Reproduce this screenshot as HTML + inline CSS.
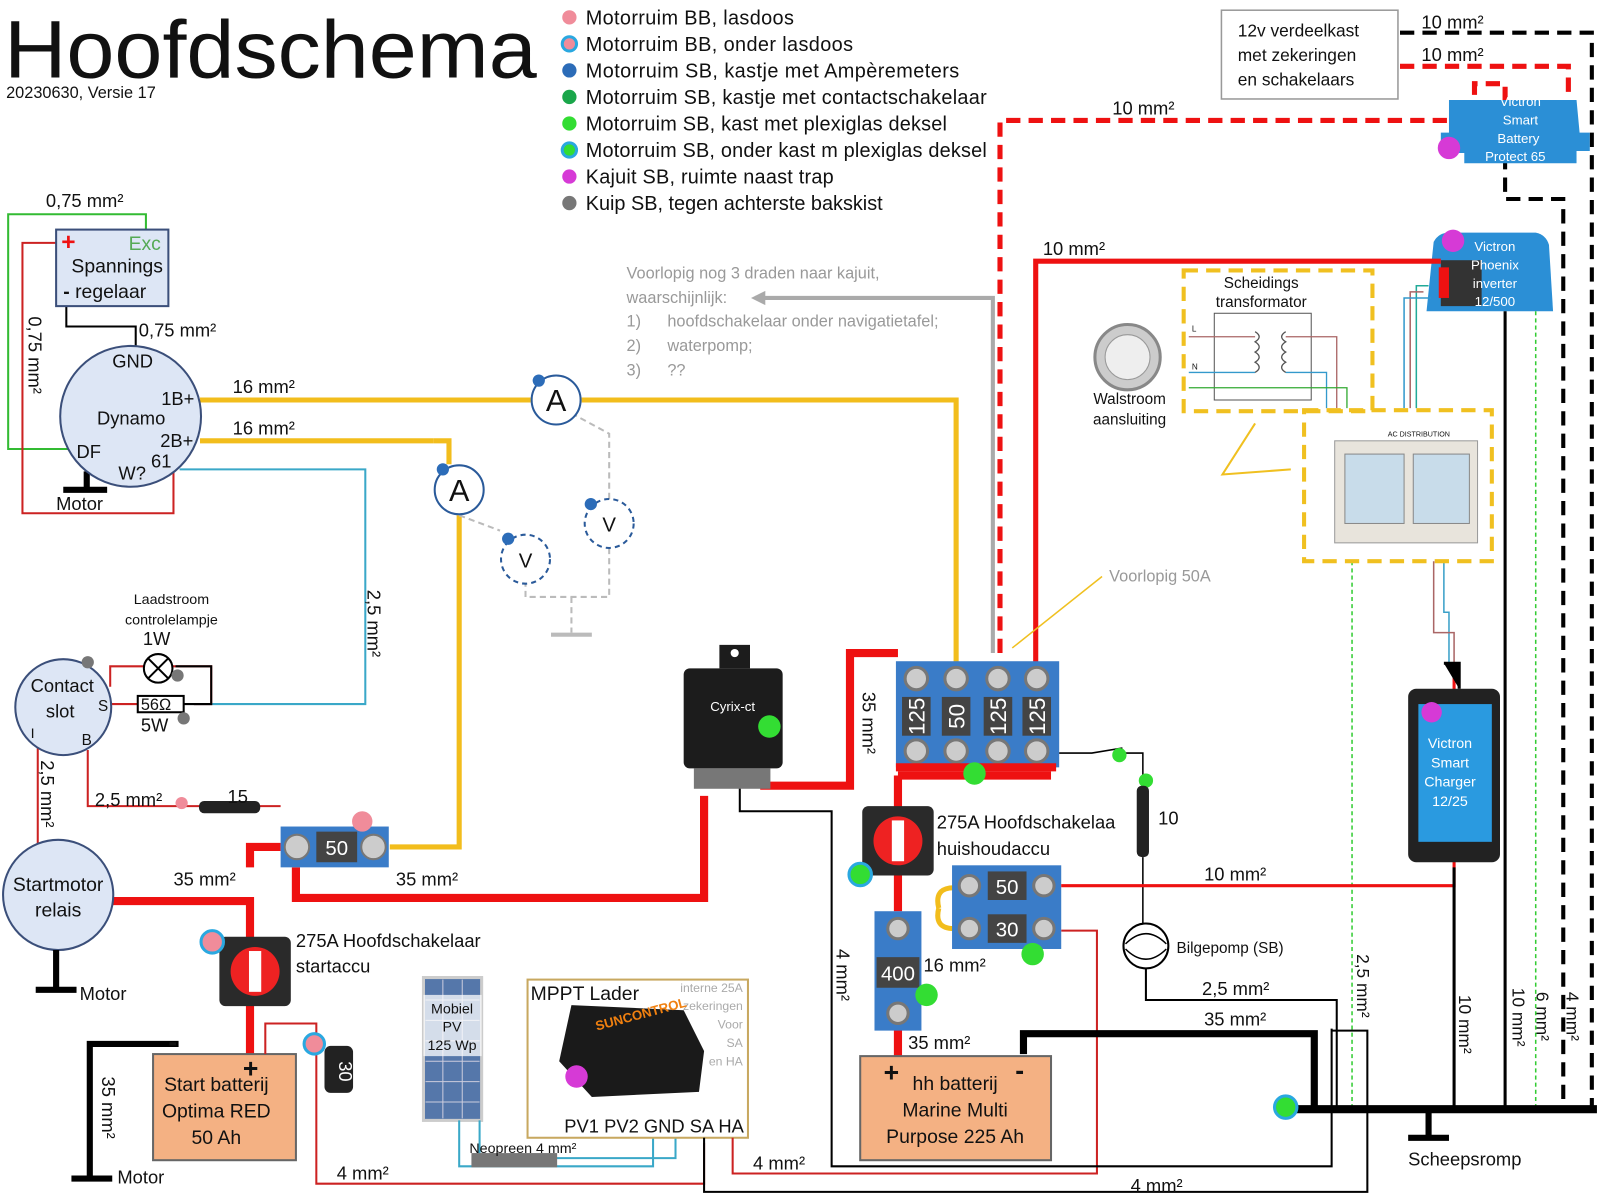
<!DOCTYPE html>
<html><head><meta charset="utf-8"><style>
html,body{margin:0;padding:0;background:#fff;width:1600px;height:1200px;overflow:hidden}
svg{display:block}
text{font-family:"Liberation Sans",sans-serif;fill:#111}
</style></head><body>
<svg width="1600" height="1200" viewBox="0 0 1568 1176" xmlns="http://www.w3.org/2000/svg">
<rect width="1568" height="1176" fill="#fff"/>
<!-- Title -->
<text x="4" y="76" font-size="80" textLength="522" lengthAdjust="spacingAndGlyphs">Hoofdschema</text>
<text x="6" y="96" font-size="16">20230630, Versie 17</text>
<!-- Legend -->
<g font-size="19.5">
<circle cx="558" cy="17" r="7" fill="#f08c9a"/><text x="574" y="24" textLength="204">Motorruim BB, lasdoos</text>
<circle cx="558" cy="43" r="7" fill="#f08c9a" stroke="#2aa8e0" stroke-width="3"/><text x="574" y="50" textLength="262">Motorruim BB, onder lasdoos</text>
<circle cx="558" cy="69" r="7" fill="#2c6cb8"/><text x="574" y="76" textLength="366">Motorruim SB, kastje met Ampèremeters</text>
<circle cx="558" cy="95" r="7" fill="#1aa64a"/><text x="574" y="102" textLength="393">Motorruim SB, kastje met contactschakelaar</text>
<circle cx="558" cy="121" r="7" fill="#33dd33"/><text x="574" y="128" textLength="354">Motorruim SB, kast met plexiglas deksel</text>
<circle cx="558" cy="147" r="7" fill="#33dd33" stroke="#2aa8e0" stroke-width="3"/><text x="574" y="154" textLength="393">Motorruim SB, onder kast m plexiglas deksel</text>
<circle cx="558" cy="173" r="7" fill="#d63ad6"/><text x="574" y="180" textLength="243">Kajuit SB, ruimte naast trap</text>
<circle cx="558" cy="199" r="7" fill="#777"/><text x="574" y="206" textLength="291">Kuip SB, tegen achterste bakskist</text>
</g>
<!-- 12v verdeelkast -->
<rect x="1197" y="10" width="173" height="87" fill="#fff" stroke="#999" stroke-width="1.5"/>
<g font-size="17"><text x="1213" y="36">12v verdeelkast</text><text x="1213" y="60">met zekeringen</text><text x="1213" y="84">en schakelaars</text></g>
<!-- dashed black wires right -->
<g fill="none" stroke="#000" stroke-width="4" stroke-dasharray="14,8">
<path d="M1372 32 H1560 V1087"/>
<path d="M1475 130 V195 H1532 V1087"/>
</g>
<g fill="none" stroke="#e11" stroke-width="5" stroke-dasharray="14,8">
<path d="M1372 65 H1537 V98"/>
<path d="M980 640 V118 H1445 V82 H1475 V98"/>
</g>
<text x="1393" y="28" font-size="18">10 mm²</text>
<text x="1393" y="60" font-size="18">10 mm²</text>
<text x="1090" y="112" font-size="18">10 mm²</text>
<!-- battery protect -->
<path d="M1420 98 H1545 L1548 130 H1558 V148 H1545 V160 H1435 V150 H1412 V130 H1420Z" fill="#2b8fd6"/>
<circle cx="1420" cy="145" r="11" fill="#d63ad6"/>
<g font-size="13" text-anchor="middle">
<text x="1490" y="104" style="fill:#fff">Victron</text><text x="1490" y="122" style="fill:#fff">Smart</text><text x="1488" y="140" style="fill:#fff">Battery</text><text x="1485" y="158" style="fill:#fff">Protect 65</text></g>
<!-- Phoenix inverter -->
<path d="M1405 237 Q1410 228 1420 228 H1505 Q1515 230 1518 240 L1522 305 H1398Z" fill="#2b8fd6"/>
<rect x="1412" y="255" width="40" height="45" fill="#333"/>
<rect x="1410" y="262" width="10" height="30" fill="#e11"/>
<circle cx="1424" cy="236" r="11" fill="#d63ad6"/>
<g font-size="13" text-anchor="middle"><text x="1465" y="246" style="fill:#fff">Victron</text><text x="1465" y="264" style="fill:#fff">Phoenix</text><text x="1465" y="282" style="fill:#fff">inverter</text><text x="1465" y="300" style="fill:#fff">12/500</text></g>
<!-- red 10mm to inverter -->
<path d="M1015 650 V256 H1412" fill="none" stroke="#e11" stroke-width="5"/>
<text x="1022" y="250" font-size="18">10 mm²</text>
<!-- thin wires from inverter down -->
<g fill="none" stroke-width="1.5">
<path d="M1400 280 H1388 V400" stroke="#2a9"/>
<path d="M1395 286 H1382 V400" stroke="#a66"/>
<path d="M1402 292 H1376 V400" stroke="#39c"/>
<path d="M1505 305 V1087" stroke="#3c3" stroke-dasharray="4,3"/>
<path d="M1325 550 V1087" stroke="#3c3" stroke-dasharray="4,3"/>
<path d="M1415 550 V600 H1420 V650" stroke="#3aa0c8"/>
<path d="M1405 550 V620 H1425 V650" stroke="#a66"/>
</g>
<!-- scheidings transformator -->
<rect x="1160" y="265" width="185" height="138" fill="none" stroke="#f0c020" stroke-width="4" stroke-dasharray="14,8"/>
<text x="1236" y="282" font-size="15" text-anchor="middle">Scheidings</text>
<text x="1236" y="301" font-size="15" text-anchor="middle">transformator</text>
<rect x="1190" y="307" width="95" height="85" fill="none" stroke="#555"/>
<g fill="none" stroke-width="1.3">
<path d="M1165 330 H1230" stroke="#a66"/><path d="M1260 330 H1310 V400" stroke="#a66"/>
<path d="M1165 365 H1230" stroke="#39c"/><path d="M1260 365 H1300 V400" stroke="#39c"/>
<path d="M1165 380 H1320 V400" stroke="#3a3"/>
<path d="M1230 325 q8 5 0 10 q8 5 0 10 q8 5 0 10 q8 5 0 10" stroke="#555"/>
<path d="M1260 325 q-8 5 0 10 q-8 5 0 10 q-8 5 0 10 q-8 5 0 10" stroke="#555"/>
</g>
<text x="1168" y="325" font-size="8">L</text><text x="1168" y="362" font-size="8">N</text>
<!-- walstroom -->
<circle cx="1105" cy="350" r="32" fill="#ccc" stroke="#888" stroke-width="3"/>
<circle cx="1105" cy="350" r="22" fill="#eee" stroke="#999"/>
<text x="1107" y="396" font-size="15" text-anchor="middle">Walstroom</text>
<text x="1107" y="416" font-size="15" text-anchor="middle">aansluiting</text>
<!-- AC distribution -->
<rect x="1278" y="402" width="184" height="148" fill="none" stroke="#f0c020" stroke-width="4" stroke-dasharray="14,8"/>
<rect x="1308" y="432" width="140" height="100" fill="#e8e4dc" stroke="#999"/>
<rect x="1318" y="445" width="58" height="68" fill="#c8dcea" stroke="#888"/>
<rect x="1385" y="445" width="55" height="68" fill="#c8dcea" stroke="#888"/>
<text x="1360" y="428" font-size="7">AC DISTRIBUTION</text>
<path d="M1230 415 L1198 465 L1265 460" fill="none" stroke="#f0c020" stroke-width="2"/>
<!-- grey arrow voorlopig -->
<path d="M973 640 V292 H740" fill="none" stroke="#aaa" stroke-width="4"/>
<path d="M736 292 l14 -7 v14z" fill="#aaa"/>
<g font-size="16">
<text x="614" y="273" style="fill:#999">Voorlopig nog 3 draden naar kajuit,</text>
<text x="614" y="297" style="fill:#999">waarschijnlijk:</text>
<text x="614" y="320" style="fill:#999">1)</text><text x="654" y="320" style="fill:#999">hoofdschakelaar onder navigatietafel;</text>
<text x="614" y="344" style="fill:#999">2)</text><text x="654" y="344" style="fill:#999">waterpomp;</text>
<text x="614" y="368" style="fill:#999">3)</text><text x="654" y="368" style="fill:#999">??</text>
</g>
<text x="1087" y="570" font-size="16" style="fill:#999">Voorlopig 50A</text>
<path d="M1080 565 L992 635" stroke="#f0c020" stroke-width="1.5"/>
<!-- Spanningsregelaar + dynamo wiring -->
<path d="M143 225 V210 H8 V440 H75" fill="none" stroke="#3b3" stroke-width="2"/>
<path d="M55 238 H22 V503 H170 V462" fill="none" stroke="#c22" stroke-width="2"/>
<path d="M65 300 V320 H133 V340" fill="none" stroke="#000" stroke-width="2"/>
<text x="45" y="203" font-size="18">0,75 mm²</text>
<text x="136" y="330" font-size="18">0,75 mm²</text>
<text x="28" y="310" font-size="18" transform="rotate(90 28 310)">0,75 mm²</text>
<rect x="55" y="225" width="110" height="75" fill="#dde6f5" stroke="#3b4f7a" stroke-width="2"/>
<text x="60" y="245" font-size="24" style="fill:#e11" font-weight="bold">+</text>
<text x="126" y="245" font-size="19" style="fill:#5a5">Exc</text>
<text x="70" y="267" font-size="19">Spannings</text>
<text x="62" y="292" font-size="19"><tspan font-weight="bold">-</tspan> regelaar</text>
<!-- yellow 16mm -->
<g fill="none" stroke="#f2bd1c" stroke-width="5">
<path d="M196 392 H520"/><path d="M570 392 H937 V650"/>
<path d="M196 432 H425"/><path d="M450 505 V830 H382"/>
<path d="M425 432 H440 V455"/>
</g>
<text x="228" y="385" font-size="18">16 mm²</text>
<text x="228" y="426" font-size="18">16 mm²</text>
<path d="M176 460 H358 V690 H190" fill="none" stroke="#3aa8c8" stroke-width="2"/>
<text x="360" y="578" font-size="18" transform="rotate(90 360 578)">2,5 mm²</text>
<!-- dynamo -->
<path d="M85 462 V480 M62 480 H105" stroke="#000" stroke-width="6"/>
<circle cx="128" cy="408" r="69" fill="#dde6f5" stroke="#3b4f7a" stroke-width="2"/>
<g font-size="18"><text x="110" y="360">GND</text><text x="158" y="397">1B+</text><text x="95" y="416">Dynamo</text><text x="157" y="438">2B+</text><text x="75" y="449">DF</text><text x="148" y="458">61</text><text x="116" y="470">W?</text></g>
<text x="55" y="500" font-size="18">Motor</text>
<!-- ammeters/voltmeters -->
<g fill="none" stroke="#bbb" stroke-width="2" stroke-dasharray="6,4">
<path d="M560 405 L597 425 V490"/><path d="M597 537 V585 H515 V572"/><path d="M450 505 L490 520"/>
<path d="M560 585 V620"/>
</g>
<path d="M540 622 H580" stroke="#bbb" stroke-width="4"/>
<circle cx="545" cy="392" r="24" fill="#fff" stroke="#2a5a9a" stroke-width="2"/><text x="545" y="403" font-size="30" text-anchor="middle">A</text>
<circle cx="450" cy="480" r="24" fill="#fff" stroke="#2a5a9a" stroke-width="2"/><text x="450" y="491" font-size="30" text-anchor="middle">A</text>
<circle cx="597" cy="513" r="24" fill="#fff" stroke="#2a5a9a" stroke-width="2" stroke-dasharray="5,4"/><text x="597" y="521" font-size="20" text-anchor="middle">V</text>
<circle cx="515" cy="548" r="24" fill="#fff" stroke="#2a5a9a" stroke-width="2" stroke-dasharray="5,4"/><text x="515" y="556" font-size="20" text-anchor="middle">V</text>
<g fill="#2c6cb8"><circle cx="528" cy="373" r="6"/><circle cx="434" cy="460" r="6"/><circle cx="579" cy="494" r="6"/><circle cx="498" cy="528" r="6"/></g>
<!-- contact slot -->
<text x="168" y="592" font-size="14" text-anchor="middle">Laadstroom</text>
<text x="168" y="612" font-size="14" text-anchor="middle">controlelampje</text>
<path d="M108 673 V653 H207 V690 H190 M108 690 H135" fill="none" stroke="#c22" stroke-width="2"/>
<path d="M172 653 H207 V690 H180" fill="none" stroke="#000" stroke-width="2"/>
<circle cx="155" cy="655" r="14" fill="#fff" stroke="#000" stroke-width="2"/>
<path d="M145 645 L165 665 M165 645 L145 665" stroke="#000" stroke-width="2"/>
<rect x="135" y="682" width="45" height="16" fill="#fff" stroke="#000" stroke-width="2"/>
<text x="138" y="696" font-size="16">56Ω</text>
<text x="140" y="632" font-size="18">1W</text><text x="138" y="717" font-size="18">5W</text>
<circle cx="174" cy="662" r="6" fill="#777"/><circle cx="180" cy="704" r="6" fill="#777"/>
<path d="M86 735 V790 H275 M37 720 V830" fill="none" stroke="#c22" stroke-width="2"/>
<circle cx="62" cy="693" r="47" fill="#dde6f5" stroke="#3b4f7a" stroke-width="2"/>
<circle cx="86" cy="649" r="6" fill="#777"/>
<text x="30" y="678" font-size="18">Contact</text><text x="45" y="703" font-size="18">slot</text>
<text x="96" y="697" font-size="15">S</text><text x="80" y="730" font-size="15">B</text><text x="30" y="723" font-size="14">I</text>
<text x="40" y="745" font-size="18" transform="rotate(90 40 745)">2,5 mm²</text>
<text x="93" y="790" font-size="18">2,5 mm²</text>
<circle cx="178" cy="787" r="6" fill="#f08c9a"/>
<rect x="195" y="785" width="60" height="12" rx="5" fill="#222"/>
<text x="223" y="787" font-size="18">15</text>
<!-- startmotor relais & red cables -->
<g fill="none" stroke="#e11" stroke-width="8">
<path d="M110 883 H245 V920"/><path d="M245 850 V830 H275"/>
<path d="M290 850 V880 H690 V780"/>
<path d="M745 770 H833 V640 H880"/>
<path d="M880 760 H1030"/><path d="M880 760 V795"/>
<path d="M880 858 V893"/><path d="M880 1008 V1035"/>
<path d="M245 985 V1035"/>
</g>
<path d="M920 890 Q915 870 935 870 M920 890 Q915 910 935 910" fill="none" stroke="#f2bd1c" stroke-width="5"/>
<text x="170" y="868" font-size="18">35 mm²</text>
<text x="388" y="868" font-size="18">35 mm²</text>
<text x="845" y="678" font-size="18" transform="rotate(90 845 678)">35 mm²</text>
<circle cx="57" cy="877" r="54" fill="#dde6f5" stroke="#3b4f7a" stroke-width="2"/>
<text x="57" y="873" font-size="19" text-anchor="middle">Startmotor</text><text x="57" y="898" font-size="19" text-anchor="middle">relais</text>
<path d="M55 931 V970 M35 970 H75" stroke="#000" stroke-width="6"/>
<text x="78" y="980" font-size="18">Motor</text>
<!-- fuse 50 start -->
<rect x="275" y="810" width="106" height="40" fill="#3a7cc8"/>
<circle cx="291" cy="830" r="12" fill="#ccc" stroke="#777" stroke-width="2"/><circle cx="366" cy="830" r="12" fill="#ccc" stroke="#777" stroke-width="2"/>
<rect x="310" y="815" width="40" height="30" fill="#444"/><text x="330" y="838" font-size="20" text-anchor="middle" style="fill:#fff">50</text>
<circle cx="355" cy="805" r="10" fill="#f08c9a"/>
<!-- main switch startaccu -->
<rect x="215" y="918" width="70" height="68" rx="6" fill="#2a2a2a"/>
<circle cx="250" cy="952" r="24" fill="#e22"/><rect x="244" y="932" width="12" height="40" fill="#fff"/>
<circle cx="208" cy="923" r="11" fill="#f08c9a" stroke="#2aa8e0" stroke-width="3"/>
<text x="290" y="928" font-size="18">275A Hoofdschakelaar</text><text x="290" y="953" font-size="18">startaccu</text>
<!-- start battery -->
<path d="M175 1023 H88 V1155 M70 1155 H110" fill="none" stroke="#000" stroke-width="6"/>
<text x="100" y="1055" font-size="18" transform="rotate(90 100 1055)">35 mm²</text>
<text x="115" y="1160" font-size="18">Motor</text>
<rect x="150" y="1033" width="140" height="104" fill="#f4b183" stroke="#666" stroke-width="2"/>
<text x="165" y="1030" font-size="26" font-weight="bold">-</text><text x="238" y="1056" font-size="26" font-weight="bold">+</text>
<text x="212" y="1069" font-size="19" text-anchor="middle">Start batterij</text>
<text x="212" y="1095" font-size="19" text-anchor="middle">Optima RED</text>
<text x="212" y="1121" font-size="19" text-anchor="middle">50 Ah</text>
<path d="M260 1033 V1003 H310 V1160 H690 V1120" fill="none" stroke="#c22" stroke-width="2"/>
<text x="330" y="1156" font-size="18">4 mm²</text>
<rect x="318" y="1025" width="28" height="46" rx="6" fill="#222"/>
<text x="332" y="1040" font-size="18" style="fill:#fff" transform="rotate(90 332 1040)">30</text>
<circle cx="308" cy="1023" r="10" fill="#f08c9a" stroke="#2aa8e0" stroke-width="3"/>
<!-- solar & MPPT -->
<rect x="415" y="958" width="57" height="140" fill="#5577aa" stroke="#ccc" stroke-width="3"/>
<g stroke="#ccd" stroke-width="1"><path d="M434 960V1096M453 960V1096M417 980H470M417 1000H470M417 1020H470M417 1040H470M417 1060H470M417 1080H470"/></g>
<rect x="415" y="975" width="57" height="60" fill="rgba(255,255,255,0.75)"/>
<text x="443" y="993" font-size="14" text-anchor="middle">Mobiel</text><text x="443" y="1011" font-size="14" text-anchor="middle">PV</text><text x="443" y="1029" font-size="14" text-anchor="middle">125 Wp</text>
<path d="M450 1098 V1143 H640 V1110" fill="none" stroke="#3aa8c8" stroke-width="2"/>
<path d="M470 1098 V1135 H662 V1110" fill="none" stroke="#3aa8c8" stroke-width="2"/>
<rect x="462" y="1130" width="84" height="14" fill="#777"/>
<text x="460" y="1130" font-size="14">Neopreen 4 mm²</text>
<rect x="517" y="960" width="216" height="155" fill="#fff" stroke="#c8a860" stroke-width="2"/>
<text x="520" y="980" font-size="19">MPPT Lader</text>
<g font-size="12" text-anchor="end"><text x="728" y="972" style="fill:#aaa">interne 25A</text><text x="728" y="990" style="fill:#aaa">zekeringen</text><text x="728" y="1008" style="fill:#aaa">Voor</text><text x="728" y="1026" style="fill:#aaa">SA</text><text x="728" y="1044" style="fill:#aaa">en HA</text></g>
<path d="M560 985 L670 990 L690 1030 L685 1070 L580 1075 L548 1040Z" fill="#1a1a1a"/>
<text x="585" y="1010" font-size="13" style="fill:#f08010" font-weight="bold" transform="rotate(-15 585 1010)">SUNCONTROL</text>
<circle cx="565" cy="1055" r="11" fill="#d63ad6"/>
<text x="553" y="1110" font-size="18">PV1 PV2 GND SA HA</text>
<path d="M690 1115 V1168 H1340 V1010 H1305" fill="none" stroke="#000" stroke-width="2"/>
<path d="M718 1115 V1150 H1075 V912 H1040" fill="none" stroke="#c22" stroke-width="2"/>
<text x="738" y="1146" font-size="18">4 mm²</text>
<text x="1108" y="1168" font-size="18">4 mm²</text>
<!-- cyrix -->
<path d="M725 770 V795 H815 V1143 H1305 V1008" fill="none" stroke="#000" stroke-width="2"/>
<rect x="670" y="655" width="97" height="98" rx="6" fill="#1c1c1c"/>
<path d="M705 655 V632 H735 V655" fill="#1c1c1c"/>
<circle cx="720" cy="640" r="4" fill="#fff"/>
<text x="696" y="697" font-size="13" style="fill:#fff">Cyrix-ct</text>
<rect x="680" y="753" width="75" height="20" fill="#777"/>
<circle cx="754" cy="712" r="11" fill="#33dd33"/>
<!-- main fuse block -->
<rect x="878" y="648" width="160" height="104" fill="#3a7cc8"/>
<g fill="#ccc" stroke="#777" stroke-width="3">
<circle cx="898" cy="665" r="11"/><circle cx="937" cy="665" r="11"/><circle cx="978" cy="665" r="11"/><circle cx="1016" cy="665" r="11"/>
<circle cx="898" cy="736" r="11"/><circle cx="937" cy="736" r="11"/><circle cx="978" cy="736" r="11"/><circle cx="1016" cy="736" r="11"/></g>
<g fill="#444"><rect x="884" y="683" width="28" height="38"/><rect x="923" y="683" width="28" height="38"/><rect x="964" y="683" width="28" height="38"/><rect x="1002" y="683" width="28" height="38"/></g>
<g font-size="22" text-anchor="middle">
<text x="898" y="702" transform="rotate(-90 898 702)" dy="8" style="fill:#fff">125</text>
<text x="937" y="702" transform="rotate(-90 937 702)" dy="8" style="fill:#fff">50</text>
<text x="978" y="702" transform="rotate(-90 978 702)" dy="8" style="fill:#fff">125</text>
<text x="1016" y="702" transform="rotate(-90 1016 702)" dy="8" style="fill:#fff">125</text></g>
<path d="M878 752 H1035" stroke="#e11" stroke-width="8"/>
<circle cx="955" cy="758" r="11" fill="#33dd33"/>
<path d="M1038 738 H1070 L1100 733 M1100 738 H1120 V760" fill="none" stroke="#000" stroke-width="1.5"/>
<circle cx="1097" cy="740" r="7" fill="#33dd33"/><circle cx="1123" cy="765" r="7" fill="#33dd33"/>
<rect x="1114" y="770" width="12" height="70" rx="5" fill="#222"/>
<text x="1135" y="808" font-size="18">10</text>
<path d="M1120 840 V905" stroke="#000" stroke-width="1.5"/>
<!-- hoofdschakelaar huis -->
<rect x="845" y="790" width="70" height="68" rx="6" fill="#2a2a2a"/>
<circle cx="880" cy="824" r="24" fill="#e22"/><rect x="874" y="804" width="12" height="40" fill="#fff"/>
<circle cx="843" cy="857" r="11" fill="#33dd33" stroke="#2aa8e0" stroke-width="3"/>
<text x="918" y="812" font-size="18">275A Hoofdschakelaa</text><text x="918" y="838" font-size="18">huishoudaccu</text>
<!-- 50/30 block -->
<rect x="933" y="848" width="107" height="82" fill="#3a7cc8"/>
<g fill="#ccc" stroke="#777" stroke-width="3"><circle cx="950" cy="868" r="10"/><circle cx="1023" cy="868" r="10"/><circle cx="950" cy="910" r="10"/><circle cx="1023" cy="910" r="10"/></g>
<rect x="968" y="854" width="38" height="28" fill="#444"/><rect x="968" y="896" width="38" height="28" fill="#444"/>
<text x="987" y="876" font-size="20" text-anchor="middle" style="fill:#fff">50</text>
<text x="987" y="918" font-size="20" text-anchor="middle" style="fill:#fff">30</text>
<circle cx="1012" cy="935" r="11" fill="#33dd33"/>
<path d="M1040 868 H1425 V660" fill="none" stroke="#e11" stroke-width="3"/>
<text x="1180" y="863" font-size="18">10 mm²</text>
<!-- 400 block -->
<rect x="857" y="893" width="46" height="117" fill="#3a7cc8"/>
<circle cx="880" cy="910" r="10" fill="#ccc" stroke="#777" stroke-width="3"/><circle cx="880" cy="993" r="10" fill="#ccc" stroke="#777" stroke-width="3"/>
<rect x="859" y="938" width="42" height="30" fill="#444"/><text x="880" y="961" font-size="20" text-anchor="middle" style="fill:#fff">400</text>
<circle cx="908" cy="975" r="11" fill="#33dd33"/>
<text x="905" y="952" font-size="18">16 mm²</text>
<text x="820" y="930" font-size="18" transform="rotate(90 820 930)">4 mm²</text>
<text x="890" y="1028" font-size="18">35 mm²</text>
<!-- bilgepomp -->
<circle cx="1123" cy="927" r="22" fill="#fff" stroke="#000" stroke-width="2"/>
<path d="M1103 925 Q1123 905 1143 925 M1103 930 Q1123 950 1143 930" fill="none" stroke="#000" stroke-width="1.5"/>
<text x="1153" y="934" font-size="15">Bilgepomp (SB)</text>
<path d="M1123 949 V980 H1310 V1087" fill="none" stroke="#000" stroke-width="2"/>
<text x="1178" y="975" font-size="18">2,5 mm²</text>
<text x="1180" y="1005" font-size="18">35 mm²</text>
<!-- hh battery -->
<path d="M1003 1033 V1013 H1288 V1087" fill="none" stroke="#000" stroke-width="7"/>
<rect x="843" y="1035" width="187" height="102" fill="#f4b183" stroke="#666" stroke-width="2"/>
<text x="866" y="1060" font-size="26" font-weight="bold">+</text><text x="995" y="1058" font-size="26" font-weight="bold">-</text>
<text x="936" y="1068" font-size="19" text-anchor="middle">hh batterij</text>
<text x="936" y="1094" font-size="19" text-anchor="middle">Marine Multi</text>
<text x="936" y="1120" font-size="19" text-anchor="middle">Purpose 225 Ah</text>
<!-- smart charger -->
<path d="M1425 850 V1087 M1475 305 V1087" fill="none" stroke="#000" stroke-width="3"/>
<path d="M1415 650 H1430 V675" stroke="#000" stroke-width="3"/>
<rect x="1380" y="675" width="90" height="170" rx="8" fill="#222"/>
<rect x="1390" y="690" width="72" height="135" fill="#2a9ae0"/>
<circle cx="1403" cy="698" r="10" fill="#d63ad6"/>
<g font-size="14" text-anchor="middle"><text x="1421" y="733" style="fill:#fff">Victron</text><text x="1421" y="752" style="fill:#fff">Smart</text><text x="1421" y="771" style="fill:#fff">Charger</text><text x="1421" y="790" style="fill:#fff">12/25</text></g>
<!-- ground bus -->
<path d="M1265 1087 H1565" stroke="#000" stroke-width="8"/>
<path d="M1400 1087 V1115 M1380 1115 H1420" stroke="#000" stroke-width="6"/>
<circle cx="1260" cy="1085" r="11" fill="#33dd33" stroke="#2aa8e0" stroke-width="3"/>
<text x="1380" y="1142" font-size="18">Scheepsromp</text>
<g font-size="17">
<text x="1330" y="935" transform="rotate(90 1330 935)">2,5 mm²</text>
<text x="1430" y="975" transform="rotate(90 1430 975)">10 mm²</text>
<text x="1482" y="968" transform="rotate(90 1482 968)">10 mm²</text>
<text x="1506" y="972" transform="rotate(90 1506 972)">6 mm²</text>
<text x="1535" y="972" transform="rotate(90 1535 972)">4 mm²</text>
</g>
</svg>
</body></html>
